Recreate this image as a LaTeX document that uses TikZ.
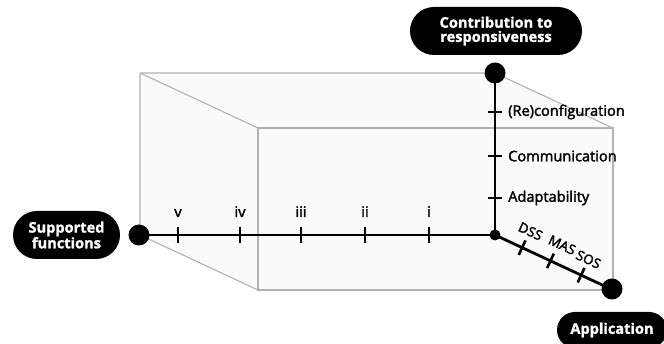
\documentclass[tikz,border=0pt]{standalone}
\usepackage{fontspec}
\setmainfont{Open Sans}
\newfontfamily\semib[FakeBold=2]{Open Sans}
\newfontfamily\pillfont[BoldFeatures={FakeBold=1.5}]{Open Sans}
\usetikzlibrary{shapes.misc}
\begin{document}
\begin{tikzpicture}[x=1pt,y=-1pt,
  boxline/.style={draw=gray!60, line width=1.1pt},
  axisline/.style={line width=2.8pt, draw=black},
  tickmark/.style={line width=2.6pt, draw=black},
  pill/.style={rounded rectangle, fill=black, text=white,
    font=\fontsize{14.6}{14.2}\selectfont\pillfont\bfseries, align=center, inner sep=0pt,
    minimum height=48pt},
  ticklabel/.style={font=\fontsize{14.6}{15}\selectfont\semib, inner sep=0pt},
  difflabel/.style={font=\fontsize{13.5}{14}\selectfont\semib, inner sep=0pt, sloped},
  bigdot/.style={circle, fill=black, minimum size=21pt, inner sep=0pt},
  smalldot/.style={circle, fill=black, minimum size=11pt, inner sep=0pt},
  difftick/.style={rectangle, fill=black, minimum width=2.6pt, minimum height=16pt, inner sep=0pt, sloped}]
\useasboundingbox (0,0) rectangle (664,344);
% box corners
\coordinate (btl) at (140,73);
\coordinate (btr) at (495,73);
\coordinate (bbl) at (140,235);
\coordinate (bbr) at (495,235);
\coordinate (ftl) at (258,128);
\coordinate (ftr) at (613,128);
\coordinate (fbl) at (258,290);
\coordinate (fbr) at (613,290);
\fill[black!2] (btl)--(btr)--(ftr)--(fbr)--(fbl)--(bbl)--cycle;
\draw[boxline] (btl)--(btr) (btl)--(bbl) (btl)--(ftl) (bbl)--(fbl) (btr)--(ftr) (bbr)--(fbr);
\draw[boxline] (ftl) rectangle (fbr);
% axes
\coordinate (o) at (495,235);
\draw[axisline] (bbl) -- (o);
\draw[axisline] (o) -- (btr);
\draw[axisline] (o) -- (fbr)
  node[difftick, pos=0.23] {} node[difftick, pos=0.47] {} node[difftick, pos=0.73] {}
  node[difflabel, pos=0.235, above=12pt] {DSS}
  node[difflabel, pos=0.50, above=13pt] {MAS}
  node[difflabel, pos=0.73, above=11pt] {SOS};
% horizontal ticks
\foreach \x/\t/\n in {178/v/h5, 240/iv/h4, 301/iii/h3, 365/ii/h2, 429/i/h1}{
  \coordinate (\n) at (\x,235);
  \draw[tickmark] ([yshift=8pt]\n) -- ([yshift=-8pt]\n);
  \node[ticklabel, anchor=base] (\n l) at (\x,217) {\t};
}
% vertical ticks
\foreach \y/\t/\n in {112/(Re)configuration/v3, 156/Communication/v2, 198/Adaptability/v1}{
  \coordinate (\n) at (495,\y);
  \draw[tickmark] ([xshift=-7pt]\n) -- ([xshift=7pt]\n);
  \node[ticklabel, anchor=west] (\n l) at (508,\y) {\t};
}
% dots
\node[bigdot] (sfdot) at (139,235) {};
\node[bigdot] (crdot) at (495,73) {};
\node[bigdot] (apdot) at (612,289) {};
\node[smalldot] (odot) at (o) {};
% pills
\node[pill, minimum width=172pt] (cr) at (496,31) {Contribution to\\responsiveness};
\node[pill, minimum width=107pt] (sf) at (66.5,235) {Supported\\functions};
\node[pill, minimum width=110pt, minimum height=36pt] (ap) at (612,330) {Application};
\end{tikzpicture}
\end{document}
